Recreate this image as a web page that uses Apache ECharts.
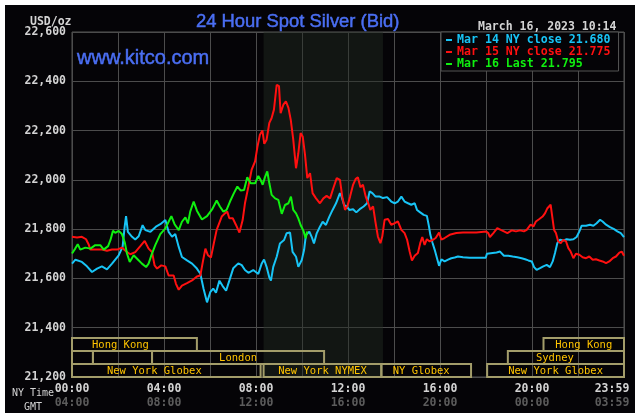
<!DOCTYPE html>
<html>
<head>
<meta charset="utf-8">
<script src="https://cdn.jsdelivr.net/npm/echarts@6/dist/echarts.min.js"></script>
<style>
  html, body { margin: 0; padding: 0; background: #fff; }
  #chart { position: absolute; left: 5px; top: 5px; width: 630px; height: 408px; background: #050407; }
</style>
</head>
<body>
<div id="chart"></div>
<script>
// hours since 00:00 NY time, price USD/oz
var mar14 = [[0,21.660],[0.15,21.676],[0.43,21.667],[0.65,21.649],[0.87,21.626],[1.09,21.640],[1.30,21.649],[1.52,21.637],[1.74,21.660],[2.03,21.694],[2.20,21.728],[2.29,21.810],[2.35,21.853],[2.43,21.789],[2.61,21.769],[2.75,21.758],[2.90,21.771],[3.07,21.816],[3.19,21.796],[3.41,21.789],[3.65,21.810],[3.84,21.820],[4.06,21.837],[4.20,21.789],[4.35,21.769],[4.49,21.780],[4.64,21.728],[4.78,21.687],[5.00,21.673],[5.22,21.660],[5.43,21.640],[5.58,21.619],[5.72,21.558],[5.87,21.503],[6.01,21.544],[6.14,21.559],[6.26,21.542],[6.41,21.591],[6.55,21.569],[6.70,21.550],[6.84,21.591],[7.01,21.641],[7.23,21.661],[7.38,21.654],[7.52,21.634],[7.67,21.623],[7.88,21.634],[8.10,21.618],[8.25,21.661],[8.35,21.677],[8.46,21.647],[8.58,21.604],[8.65,21.591],[8.75,21.647],[8.90,21.688],[9.04,21.742],[9.22,21.756],[9.33,21.783],[9.48,21.786],[9.59,21.708],[9.74,21.688],[9.84,21.647],[9.99,21.675],[10.09,21.715],[10.17,21.776],[10.32,21.790],[10.42,21.769],[10.52,21.742],[10.64,21.783],[10.78,21.810],[10.90,21.830],[11.04,21.817],[11.19,21.851],[11.33,21.878],[11.48,21.905],[11.65,21.946],[11.72,21.932],[11.83,21.898],[11.94,21.892],[12.06,21.878],[12.22,21.881],[12.36,21.868],[12.51,21.881],[12.68,21.892],[12.83,21.905],[12.94,21.953],[13.06,21.946],[13.20,21.932],[13.38,21.932],[13.52,21.926],[13.70,21.930],[13.88,21.912],[14.03,21.905],[14.17,21.912],[14.32,21.932],[14.46,21.912],[14.61,21.905],[14.75,21.899],[14.90,21.905],[15.00,21.878],[15.14,21.868],[15.29,21.858],[15.43,21.854],[15.52,21.811],[15.58,21.777],[15.67,21.746],[15.77,21.716],[15.87,21.682],[15.96,21.651],[16.06,21.678],[16.20,21.669],[16.35,21.676],[16.49,21.682],[16.64,21.685],[16.78,21.689],[17.00,21.686],[17.29,21.684],[17.65,21.684],[17.99,21.684],[18.04,21.700],[18.29,21.703],[18.46,21.705],[18.61,21.709],[18.78,21.692],[18.97,21.692],[19.16,21.689],[19.36,21.686],[19.55,21.682],[19.70,21.678],[19.84,21.673],[19.99,21.669],[20.09,21.646],[20.20,21.635],[20.35,21.642],[20.49,21.649],[20.64,21.655],[20.78,21.646],[20.90,21.669],[21.00,21.703],[21.10,21.743],[21.22,21.757],[21.36,21.754],[21.51,21.759],[21.65,21.757],[21.80,21.759],[21.94,21.768],[22.06,21.791],[22.16,21.814],[22.35,21.814],[22.52,21.818],[22.67,21.814],[22.81,21.824],[22.96,21.838],[23.07,21.831],[23.22,21.818],[23.39,21.808],[23.57,21.800],[23.71,21.791],[23.86,21.784],[24.00,21.768]];

var mar15 = [[0,21.769],[0.22,21.766],[0.43,21.769],[0.61,21.759],[0.72,21.739],[0.80,21.717],[1.01,21.717],[1.30,21.717],[1.52,21.712],[1.74,21.717],[1.96,21.717],[2.17,21.725],[2.39,21.707],[2.54,21.698],[2.75,21.707],[2.97,21.731],[3.16,21.752],[3.33,21.721],[3.48,21.707],[3.59,21.653],[3.70,21.640],[3.88,21.653],[4.06,21.649],[4.20,21.612],[4.42,21.612],[4.52,21.578],[4.64,21.554],[4.78,21.571],[5.00,21.581],[5.22,21.592],[5.43,21.608],[5.58,21.612],[5.70,21.673],[5.80,21.721],[5.91,21.694],[6.04,21.685],[6.16,21.740],[6.29,21.797],[6.51,21.851],[6.65,21.864],[6.75,21.871],[6.84,21.844],[6.99,21.844],[7.13,21.817],[7.28,21.786],[7.42,21.837],[7.52,21.905],[7.67,21.973],[7.81,22.041],[7.96,22.075],[8.06,22.133],[8.17,22.183],[8.28,22.200],[8.36,22.146],[8.46,22.163],[8.58,22.231],[8.68,22.251],[8.78,22.285],[8.90,22.386],[9.00,22.380],[9.07,22.271],[9.19,22.305],[9.30,22.319],[9.41,22.292],[9.51,22.244],[9.62,22.163],[9.74,22.047],[9.84,22.108],[9.94,22.190],[10.03,22.176],[10.13,22.102],[10.23,22.007],[10.35,22.027],[10.46,21.946],[10.61,21.925],[10.78,21.905],[10.93,21.925],[11.07,21.935],[11.22,21.925],[11.36,21.966],[11.51,22.007],[11.65,22.000],[11.75,21.932],[11.87,21.878],[11.97,21.892],[12.09,21.932],[12.22,21.980],[12.33,22.003],[12.43,22.011],[12.54,21.970],[12.65,21.980],[12.77,21.932],[12.87,21.908],[12.97,21.878],[13.09,21.892],[13.19,21.831],[13.30,21.770],[13.41,21.743],[13.49,21.770],[13.59,21.838],[13.74,21.841],[13.88,21.818],[14.03,21.824],[14.17,21.831],[14.32,21.797],[14.46,21.784],[14.57,21.757],[14.68,21.709],[14.78,21.673],[14.90,21.692],[15.04,21.703],[15.14,21.743],[15.23,21.768],[15.33,21.736],[15.43,21.759],[15.55,21.750],[15.70,21.757],[15.81,21.764],[15.96,21.786],[16.06,21.757],[16.20,21.764],[16.42,21.777],[16.71,21.784],[17.00,21.786],[17.29,21.786],[17.58,21.786],[18.01,21.790],[18.10,21.784],[18.17,21.768],[18.32,21.784],[18.49,21.804],[18.64,21.797],[18.78,21.791],[18.93,21.784],[19.12,21.795],[19.30,21.791],[19.48,21.795],[19.65,21.791],[19.77,21.797],[19.94,21.818],[20.06,21.811],[20.17,21.831],[20.32,21.841],[20.46,21.851],[20.57,21.865],[20.67,21.885],[20.75,21.878],[20.81,21.899],[20.87,21.858],[20.96,21.797],[21.04,21.784],[21.14,21.750],[21.25,21.743],[21.36,21.757],[21.48,21.750],[21.58,21.723],[21.68,21.709],[21.80,21.682],[21.91,21.700],[22.06,21.696],[22.20,21.686],[22.35,21.682],[22.49,21.689],[22.64,21.676],[22.78,21.678],[22.93,21.673],[23.07,21.669],[23.22,21.662],[23.36,21.669],[23.51,21.682],[23.65,21.689],[23.80,21.705],[23.90,21.709],[24.00,21.692]];

var mar16 = [[0,21.701],[0.14,21.721],[0.25,21.739],[0.36,21.717],[0.58,21.725],[0.80,21.721],[1.01,21.735],[1.23,21.735],[1.38,21.717],[1.57,21.731],[1.67,21.755],[1.78,21.793],[1.88,21.785],[2.03,21.793],[2.17,21.780],[2.29,21.748],[2.39,21.701],[2.51,21.667],[2.68,21.694],[2.83,21.680],[3.04,21.660],[3.22,21.646],[3.33,21.660],[3.45,21.694],[3.62,21.735],[3.84,21.780],[4.06,21.803],[4.20,21.830],[4.32,21.853],[4.46,21.820],[4.64,21.796],[4.78,21.830],[4.93,21.848],[5.04,21.823],[5.14,21.871],[5.29,21.912],[5.43,21.875],[5.65,21.839],[5.87,21.853],[6.09,21.880],[6.29,21.916],[6.43,21.892],[6.58,21.871],[6.72,21.878],[6.87,21.912],[7.04,21.946],[7.19,21.973],[7.33,21.957],[7.48,21.959],[7.62,22.011],[7.77,21.986],[7.96,21.986],[8.10,22.016],[8.20,22.000],[8.29,21.980],[8.39,22.011],[8.49,22.034],[8.58,21.986],[8.68,21.939],[8.83,21.925],[8.97,21.919],[9.12,21.862],[9.26,21.898],[9.41,21.905],[9.52,21.932],[9.62,21.878],[9.74,21.864],[9.84,21.844],[9.94,21.817],[10.06,21.794],[10.16,21.763],[10.23,21.790]];

var legendNames = ['Mar 14 NY close 21.680', 'Mar 15 NY close 21.775', 'Mar 16 Last 21.795'];
var lineColors = ['#18c4f6', '#ff1010', '#10f010'];

// trading sessions: [name, row (0 = bottom), start hour, end hour]
var sessions = [
  ['New York Globex', 0, 0, 8.2],
  ['New York NYMEX', 0, 8.33, 13.45],
  ['NY Globex', 0, 13.45, 17.35],
  ['New York Globex', 0, 18.05, 24],
  ['', 1, 0, 0.91],
  ['', 1, 0.91, 3.48],
  ['London', 1, 3.48, 10.96],
  ['Sydney', 1, 18.95, 24],
  ['Hong Kong', 2, 0, 5.43],
  ['Hong Kong', 2, 20.5, 24]
];
var nymexShade = [8.33, 13.52];

var yMin = 21.2, yMax = 22.6, yStep = 0.2;
var rowH = 0.0527;
var mono = '"DejaVu Sans Mono", "Liberation Mono", monospace';

function pad2(n){ return (n < 10 ? '0' : '') + n; }

var chart = echarts.init(document.getElementById('chart'));

var sessionAreas = sessions.map(function(s){
  var lo = yMin + s[1] * rowH, hi = lo + rowH;
  var off = 0;
  if (s[0] === 'Hong Kong' && s[2] === 0) off = -14;
  if (s[0] === 'New York Globex' && s[2] === 0) off = -12;
  if (s[0] === 'NY Globex') off = -5;
  if (s[0] === 'Sydney') off = -11;
  return [
    { name: s[0], coord: [s[2], hi], label: { offset: [off, 1] } },
    { coord: [s[3], lo] }
  ];
});

chart.setOption({
  animation: false,
  backgroundColor: '#050407',
  title: [
    { text: '24 Hour Spot Silver (Bid)', left: 186, top: 3,
      textStyle: { color: '#4a6ef2', fontSize: 18.4, fontWeight: 'normal', fontFamily: 'Liberation Sans, Arial, sans-serif',
        textBorderColor: '#4a6ef2', textBorderWidth: 0.5 } },
    { text: 'www.kitco.com', left: 67, top: 38,
      textStyle: { color: '#4a6ef2', fontSize: 20, fontWeight: 'normal', fontFamily: 'Liberation Sans, Arial, sans-serif',
        textBorderColor: '#4a6ef2', textBorderWidth: 0.5 } },
    { text: 'March 16, 2023 10:14', left: 468, top: 11,
      textStyle: { color: '#d4d4d4', fontSize: 11.5, fontWeight: 'bold', fontFamily: mono } },
    { text: 'USD/oz', left: 20, top: 6,
      textStyle: { color: '#d4d4d4', fontSize: 11.5, fontWeight: 'bold', fontFamily: mono } },
    { text: 'NY Time', left: 2, top: 378,
      textStyle: { color: '#d4d4d4', fontSize: 10, fontWeight: 'normal', fontFamily: mono } },
    { text: 'GMT', left: 14, top: 392,
      textStyle: { color: '#d4d4d4', fontSize: 10, fontWeight: 'normal', fontFamily: mono } }
  ],
  legend: {
    data: legendNames.map(function(n, i){ return { name: n, textStyle: { color: lineColors[i] } }; }),
    orient: 'vertical',
    left: 436, top: 27,
    padding: [2, 8, 1, 5],
    itemGap: 0,
    itemWidth: 6, itemHeight: 2,
    icon: 'rect',
    selectedMode: false,
    backgroundColor: '#050407',
    borderColor: '#555',
    borderWidth: 1,
    textStyle: { fontFamily: mono, fontSize: 11.6, fontWeight: 'bold', lineHeight: 12 }
  },
  grid: { left: 67, top: 27, right: 11, bottom: 36, outerBoundsMode: 'none', containLabel: false,
    show: true, borderColor: '#555', borderWidth: 1, backgroundColor: 'transparent' },
  xAxis: {
    type: 'value', min: 0, max: 24, interval: 2,
    axisLine: { show: false }, axisTick: { show: false },
    splitLine: { show: true, lineStyle: { color: '#4c4c4c', width: 1 } },
    axisLabel: {
      margin: 5,
      showMaxLabel: true,
      formatter: function(v){
        if (v % 4) return '';
        if (v === 24) return '{c|23:59}\n{d|03:59}';
        return '{a|' + pad2(v) + ':00}\n{b|' + pad2((v + 4) % 24) + ':00}';
      },
      rich: {
        a: { color: '#d4d4d4', fontFamily: mono, fontWeight: 'bold', fontSize: 11.5, lineHeight: 14 },
        b: { color: '#5c5c5c', fontFamily: mono, fontWeight: 'bold', fontSize: 11.5, lineHeight: 14 },
        c: { color: '#d4d4d4', fontFamily: mono, fontWeight: 'bold', fontSize: 11.5, lineHeight: 14, padding: [0, 24, 0, 0] },
        d: { color: '#5c5c5c', fontFamily: mono, fontWeight: 'bold', fontSize: 11.5, lineHeight: 14, padding: [0, 24, 0, 0] }
      }
    }
  },
  yAxis: {
    type: 'value', min: yMin, max: yMax, interval: yStep,
    axisLine: { show: false }, axisTick: { show: false },
    splitLine: { show: true, lineStyle: { color: '#4c4c4c', width: 1 } },
    axisLabel: {
      margin: 6,
      color: '#d4d4d4', fontFamily: mono, fontWeight: 'bold', fontSize: 11.5,
      formatter: function(v){ return v.toFixed(3).replace('.', ','); }
    }
  },
  series: [
    {
      name: 'nymex', type: 'line', data: [], silent: true,
      markArea: {
        silent: true,
        itemStyle: { color: 'rgba(36,44,36,0.45)' },
        data: [[{ xAxis: nymexShade[0] }, { xAxis: nymexShade[1] }]]
      }
    },
    { name: legendNames[0], type: 'line', data: mar14, showSymbol: false, symbol: 'none',
      lineStyle: { color: lineColors[0], width: 2 }, itemStyle: { color: lineColors[0] } },
    { name: legendNames[1], type: 'line', data: mar15, showSymbol: false, symbol: 'none',
      lineStyle: { color: lineColors[1], width: 2 }, itemStyle: { color: lineColors[1] } },
    { name: legendNames[2], type: 'line', data: mar16, showSymbol: false, symbol: 'none',
      lineStyle: { color: lineColors[2], width: 2 }, itemStyle: { color: lineColors[2] } },
    {
      name: 'sessions', type: 'line', data: [], silent: true,
      markArea: {
        silent: true,
        itemStyle: { color: 'rgba(0,0,0,0)', borderColor: '#a39d6a', borderWidth: 2 },
        label: { show: true, position: 'inside', color: '#ffc400', fontFamily: mono, fontSize: 10.5 },
        data: sessionAreas
      }
    }
  ]
});
</script>
</body>
</html>
